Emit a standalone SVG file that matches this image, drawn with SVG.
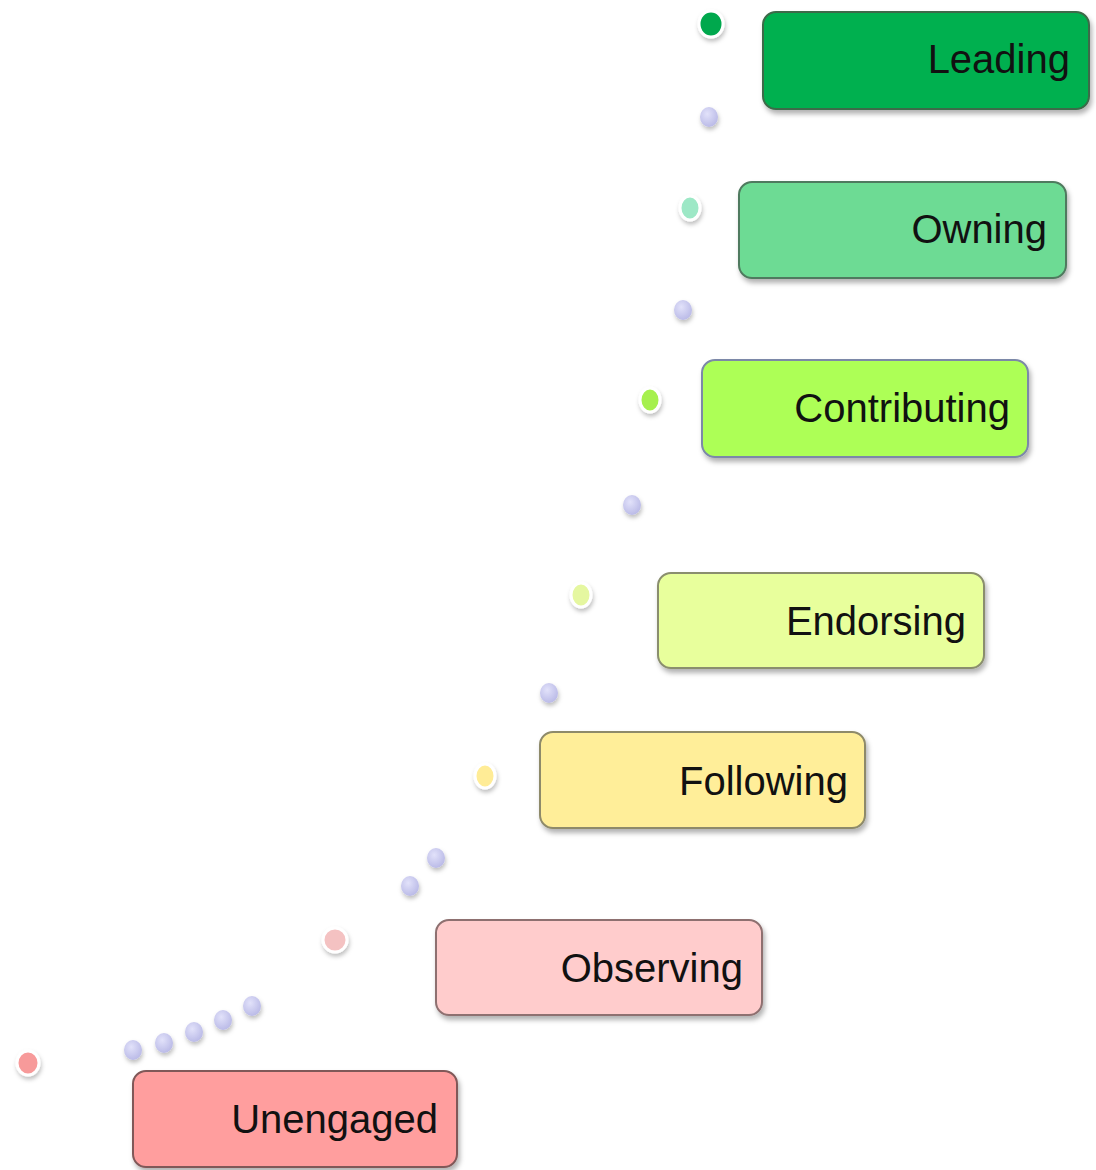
<svg xmlns="http://www.w3.org/2000/svg" width="1096" height="1170" viewBox="0 0 1096 1170">
<defs>
<filter id="sh" x="-10%" y="-10%" width="125%" height="130%">
<feDropShadow dx="2" dy="4" stdDeviation="2.5" flood-color="#000" flood-opacity="0.3"/>
</filter>
<filter id="dsh" x="-50%" y="-50%" width="200%" height="200%">
<feDropShadow dx="1" dy="3" stdDeviation="2" flood-color="#000" flood-opacity="0.25"/>
</filter>
<radialGradient id="lav" cx="0.4" cy="0.35" r="0.7">
<stop offset="0" stop-color="#E2E2FA"/>
<stop offset="1" stop-color="#B8B8E6"/>
</radialGradient>
</defs>
<style>
.box{stroke-width:2;filter:url(#sh)}
.lbl{font-family:"Liberation Sans",Arial,sans-serif;font-size:40px;fill:#111;text-anchor:end}
.dot{stroke:#fff;stroke-width:3;filter:url(#dsh)}
.lav{fill:url(#lav);filter:url(#dsh)}
</style>
<rect width="1096" height="1170" fill="#fff"/>
<g id="connectors">
<ellipse class="lav" cx="709" cy="117" rx="9" ry="10"/>
<ellipse class="lav" cx="683" cy="310" rx="9" ry="10"/>
<ellipse class="lav" cx="632" cy="505" rx="9" ry="10"/>
<ellipse class="lav" cx="549" cy="693" rx="9" ry="10"/>
<ellipse class="lav" cx="436" cy="858" rx="9" ry="10"/>
<ellipse class="lav" cx="410" cy="886" rx="9" ry="10"/>
<ellipse class="lav" cx="252" cy="1006" rx="9" ry="10"/>
<ellipse class="lav" cx="223" cy="1020" rx="9" ry="10"/>
<ellipse class="lav" cx="194" cy="1032" rx="9" ry="10"/>
<ellipse class="lav" cx="164" cy="1043" rx="9" ry="10"/>
<ellipse class="lav" cx="133" cy="1050" rx="9" ry="10"/>
</g>
<g id="leading">
<ellipse class="dot" cx="711" cy="24" rx="12" ry="13" fill="#00A84E"/>
<rect class="box" x="763" y="12" width="326" height="97" rx="13" fill="#00B050" stroke="#3C6A48"/>
<text class="lbl" x="1070" y="73">Leading</text>
</g>
<g id="owning">
<ellipse class="dot" cx="690" cy="208" rx="10" ry="12" fill="#9DE8C6"/>
<rect class="box" x="739" y="182" width="327" height="96" rx="13" fill="#6DDB94" stroke="#4F7A5E"/>
<text class="lbl" x="1047" y="243">Owning</text>
</g>
<g id="contributing">
<ellipse class="dot" cx="650" cy="400" rx="10" ry="12" fill="#A6F04E"/>
<rect class="box" x="702" y="360" width="326" height="97" rx="13" fill="#ADFF57" stroke="#7C88A8"/>
<text class="lbl" x="1010" y="422">Contributing</text>
</g>
<g id="endorsing">
<ellipse class="dot" cx="581" cy="595" rx="10" ry="12" fill="#E5F7A0"/>
<rect class="box" x="658" y="573" width="326" height="95" rx="13" fill="#E8FF9C" stroke="#8A8E6E"/>
<text class="lbl" x="966" y="635">Endorsing</text>
</g>
<g id="following">
<ellipse class="dot" cx="485" cy="776" rx="10" ry="12" fill="#FFEC96"/>
<rect class="box" x="540" y="732" width="325" height="96" rx="13" fill="#FFEE99" stroke="#8E8A6A"/>
<text class="lbl" x="848" y="795">Following</text>
</g>
<g id="observing">
<ellipse class="dot" cx="335" cy="940" rx="12" ry="12" fill="#F4C2C2"/>
<rect class="box" x="436" y="920" width="326" height="95" rx="13" fill="#FFCCCC" stroke="#8E7070"/>
<text class="lbl" x="743" y="982">Observing</text>
</g>
<g id="unengaged">
<ellipse class="dot" cx="28" cy="1063" rx="11" ry="12" fill="#F79A9A"/>
<rect class="box" x="133" y="1071" width="324" height="96" rx="13" fill="#FF9E9E" stroke="#805858"/>
<text class="lbl" x="438" y="1133">Unengaged</text>
</g>
</svg>
